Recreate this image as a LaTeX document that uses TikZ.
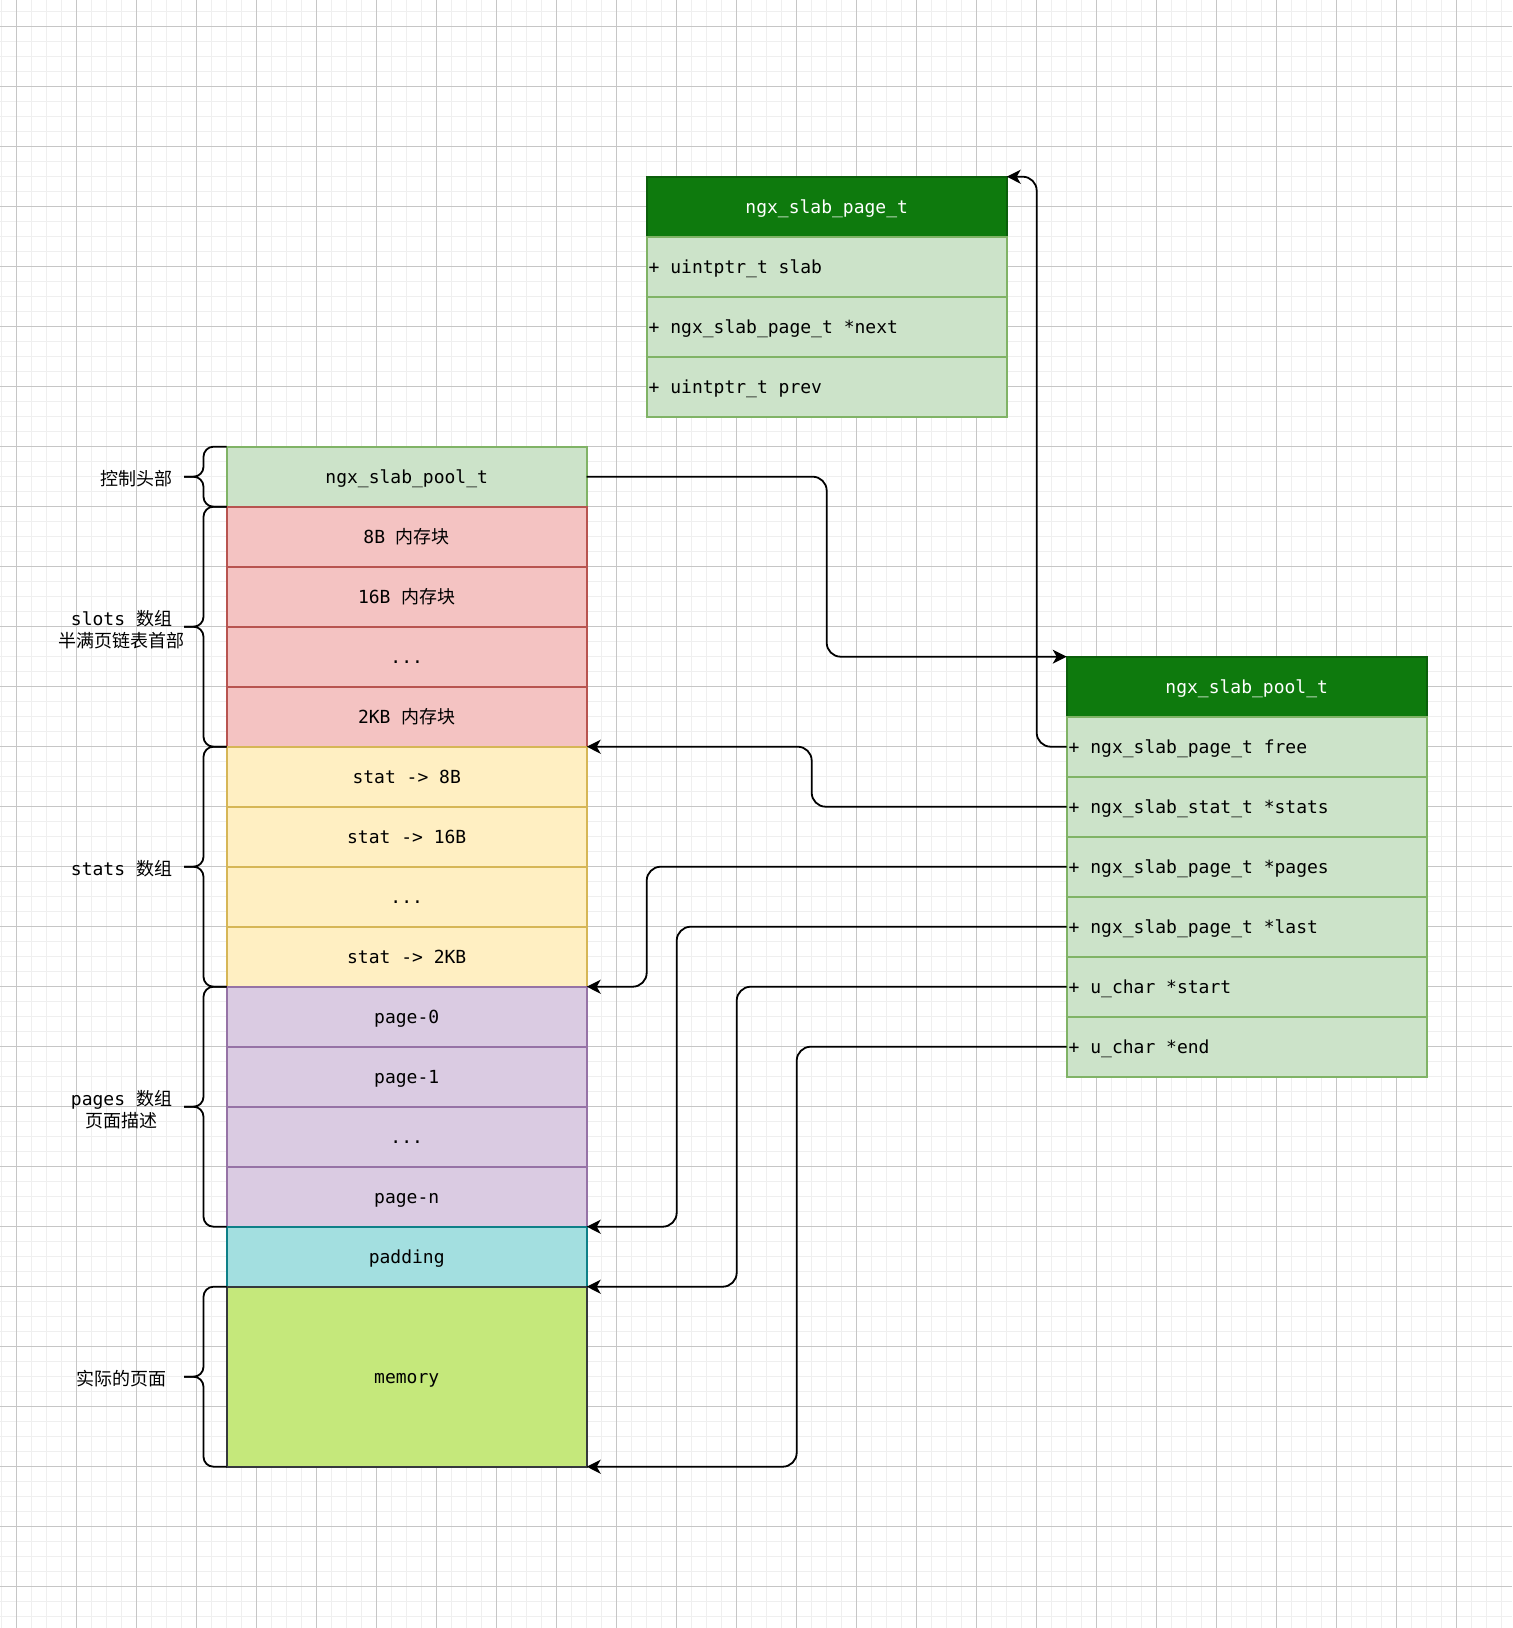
\documentclass[tikz,border=0pt]{standalone}
\usepackage{fontspec}
\newfontfamily\mono{DejaVu Sans Mono}
\newfontfamily\cjk{Noto Sans CJK SC}
\usetikzlibrary{arrows.meta}
\definecolor{hdrfill}{HTML}{0E7A0D}
\definecolor{hdrdraw}{HTML}{0B5E0B}
\definecolor{lgfill}{HTML}{CCE3C9}
\definecolor{lgdraw}{HTML}{80B366}
\definecolor{rfill}{HTML}{F4C3C2}
\definecolor{rdraw}{HTML}{B85450}
\definecolor{yfill}{HTML}{FFEFC2}
\definecolor{ydraw}{HTML}{D6B656}
\definecolor{pfill}{HTML}{DACBE2}
\definecolor{pdraw}{HTML}{9673A6}
\definecolor{tfill}{HTML}{A3DFE0}
\definecolor{tdraw}{HTML}{0E8088}
\definecolor{mfill}{HTML}{C5E87B}
\definecolor{mdraw}{HTML}{36393D}
\definecolor{gminor}{HTML}{EFEFEF}
\definecolor{gmajor}{HTML}{C6C6C6}
\newcommand\fieldsp{\spaceskip=0pt\xspaceskip=0pt\relax}
\begin{document}
\begin{tikzpicture}[x=0.5pt,y=-0.5pt,
  txt/.style={font=\mono\fontsize{9}{11}\selectfont},
  cell/.style={txt, draw, line width=1pt, minimum width=180pt, minimum height=30pt, inner sep=0pt, outer sep=0pt, text=black, text height=7pt, text depth=0pt},
  poolc/.style={cell, fill=lgfill, draw=lgdraw},
  slotc/.style={cell, fill=rfill, draw=rdraw},
  statc/.style={cell, fill=yfill, draw=ydraw},
  pagec/.style={cell, fill=pfill, draw=pdraw},
  padc/.style={cell, fill=tfill, draw=tdraw},
  memc/.style={cell, fill=mfill, draw=mdraw, minimum height=90pt},
  hdr/.style={cell, fill=hdrfill, draw=hdrdraw, text=white},
  field/.style={cell, fill=lgfill, draw=lgdraw, text width=178pt, inner xsep=1pt, align=left},
  conn/.style={line width=0.9pt, rounded corners=7pt, -{Stealth[length=7pt,width=7pt,inset=2pt]}},
  brace/.style={line width=0.9pt, rounded corners=5pt},
  lbl/.style={txt, align=center, inner sep=0pt},
  minorg/.style={gminor, line width=0.6pt},
  majorg/.style={gmajor, line width=0.45pt}
]
\useasboundingbox (0,0) rectangle (1512,1628);
\fill[white] (0,0) rectangle (1512,1628);
% grid
\foreach \i in {0,...,100} \draw[minorg] ({1.7+15*\i},0) -- ({1.7+15*\i},1628);
\foreach \j in {0,...,107} \draw[minorg] (0,{11.7+15*\j}) -- (1512,{11.7+15*\j});
\foreach \i in {0,...,24} \draw[majorg] ({16.7+60*\i},0) -- ({16.7+60*\i},1628);
\foreach \j in {0,...,26} \draw[majorg] (0,{26.7+60*\j}) -- (1512,{26.7+60*\j});

% left memory column
\node[poolc] (pool) at (406.7,476.7) {ngx\_slab\_pool\_t};
\node[slotc] (s1) at (406.7,536.7) {8B {\cjk 内存块}};
\node[slotc] (s2) at (406.7,596.7) {16B {\cjk 内存块}};
\node[slotc] (s3) at (406.7,656.7) {...};
\node[slotc] (s4) at (406.7,716.7) {2KB {\cjk 内存块}};
\node[statc] (t1) at (406.7,776.7) {stat -> 8B};
\node[statc] (t2) at (406.7,836.7) {stat -> 16B};
\node[statc] (t3) at (406.7,896.7) {...};
\node[statc] (t4) at (406.7,956.7) {stat -> 2KB};
\node[pagec] (p0) at (406.7,1016.7) {page-0};
\node[pagec] (p1) at (406.7,1076.7) {page-1};
\node[pagec] (p2) at (406.7,1136.7) {...};
\node[pagec] (pn) at (406.7,1196.7) {page-n};
\node[padc] (pad) at (406.7,1256.7) {padding};
\node[memc] (mem) at (406.7,1376.7) {memory};

% ngx_slab_page_t
\node[hdr] (tph) at (826.7,206.7) {ngx\_slab\_page\_t};
\node[field] (tslab) at (826.7,266.7) {\fieldsp + uintptr\_t slab};
\node[field] (tnext) at (826.7,326.7) {\fieldsp + ngx\_slab\_page\_t *next};
\node[field] (tprev) at (826.7,386.7) {\fieldsp + uintptr\_t prev};

% ngx_slab_pool_t
\node[hdr] (rph) at (1246.7,686.7) {ngx\_slab\_pool\_t};
\node[field] (rfree) at (1246.7,746.7) {\fieldsp + ngx\_slab\_page\_t free};
\node[field] (rstats) at (1246.7,806.7) {\fieldsp + ngx\_slab\_stat\_t *stats};
\node[field] (rpages) at (1246.7,866.7) {\fieldsp + ngx\_slab\_page\_t *pages};
\node[field] (rlast) at (1246.7,926.7) {\fieldsp + ngx\_slab\_page\_t *last};
\node[field] (rstart) at (1246.7,986.7) {\fieldsp + u\_char *start};
\node[field] (rend) at (1246.7,1046.7) {\fieldsp + u\_char *end};

% connectors
\draw[conn] (pool.east) -- ++(240,0) |- (rph.north west);
\draw[conn] (rfree.west) -- ++(-30,0) |- (tph.north east);
\draw[conn] (rstats.west) -- ++(-255,0) |- (t1.north east);
\draw[conn] (rpages.west) -- ++(-420,0) |- (p0.north east);
\draw[conn] (rlast.west) -- ++(-390,0) |- (pn.south east);
\draw[conn] (rstart.west) -- ++(-330,0) |- (mem.north east);
\draw[conn] (rend.west) -- ++(-270,0) |- (mem.south east);

% braces
\draw[brace] (226.7,446.7) -- (203.5,446.7) -- (203.5,476.7) -- (184,476.7);
\draw[brace] (184,476.7) -- (203.5,476.7) -- (203.5,506.7) -- (226.7,506.7);
\draw[brace] (226.7,506.7) -- (203.5,506.7) -- (203.5,626.7) -- (184,626.7);
\draw[brace] (184,626.7) -- (203.5,626.7) -- (203.5,746.7) -- (226.7,746.7);
\draw[brace] (226.7,746.7) -- (203.5,746.7) -- (203.5,866.7) -- (184,866.7);
\draw[brace] (184,866.7) -- (203.5,866.7) -- (203.5,986.7) -- (226.7,986.7);
\draw[brace] (226.7,986.7) -- (203.5,986.7) -- (203.5,1106.7) -- (184,1106.7);
\draw[brace] (184,1106.7) -- (203.5,1106.7) -- (203.5,1226.7) -- (226.7,1226.7);
\draw[brace] (226.7,1286.7) -- (203.5,1286.7) -- (203.5,1376.7) -- (184,1376.7);
\draw[brace] (184,1376.7) -- (203.5,1376.7) -- (203.5,1466.7) -- (226.7,1466.7);

% labels
\node[lbl] (l1) at (136,479) {{\cjk 控制头部}};
\node[lbl] (l2) at (121.5,630) {slots {\cjk 数组}\\{\cjk 半满页链表首部}};
\node[lbl] (l3) at (121.5,869) {stats {\cjk 数组}};
\node[lbl] (l4) at (121.5,1110) {pages {\cjk 数组}\\{\cjk 页面描述}};
\node[lbl] (l5) at (121.5,1379) {{\cjk 实际的页面}};
\end{tikzpicture}
\end{document}
